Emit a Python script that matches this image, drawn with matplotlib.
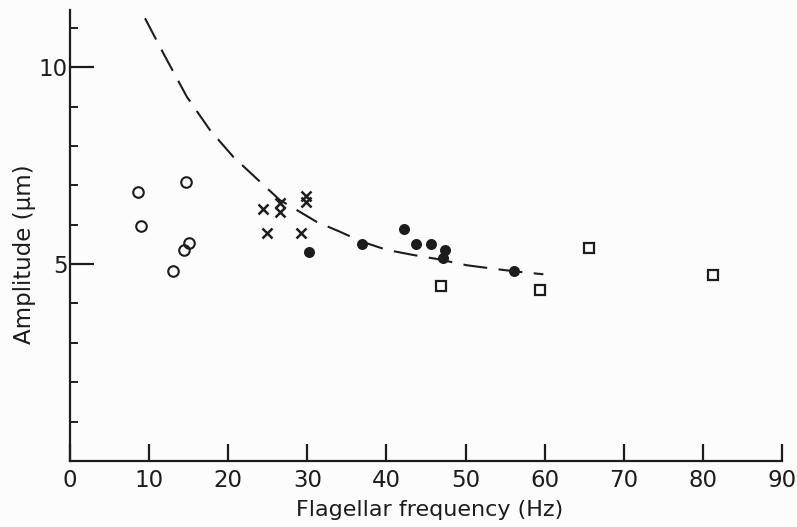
import matplotlib
matplotlib.use("Agg")
import matplotlib.pyplot as plt
from matplotlib.ticker import FixedLocator

plt.rcParams['font.family'] = ['DejaVu Sans']

# Open circles
open_x = [8.6, 9.0, 14.7, 15.1, 14.45, 13.06]
open_y = [6.83, 5.96, 7.09, 5.54, 5.36, 4.82]
# Crosses
cross_x = [24.4, 24.9, 26.5, 26.5, 29.8, 29.8, 29.2]
cross_y = [6.41, 5.79, 6.55, 6.33, 6.73, 6.58, 5.79]
# Filled circles
filled_x = [30.25, 36.9, 42.2, 43.7, 45.6, 47.4, 47.2, 56.1]
filled_y = [5.31, 5.50, 5.89, 5.50, 5.50, 5.36, 5.16, 4.83]
# Open squares
square_x = [46.9, 59.4, 65.65, 81.3]
square_y = [4.44, 4.34, 5.42, 4.72]
# Dashed curve
curve_x = [9.48, 11.80, 14.76, 17.70, 20.65, 24.02, 26.55, 27.6, 31.19, 34.13,
           36.88, 40.04, 43.40, 46.36, 50.15, 53.94, 56.89, 59.84]
curve_y = [11.24, 10.35, 9.25, 8.40, 7.72, 7.09, 6.62, 6.50, 6.07, 5.82,
           5.57, 5.36, 5.23, 5.13, 4.97, 4.87, 4.80, 4.74]

x_ticks = [0, 10, 20, 30, 40, 50, 60, 70, 80, 90]
y_major = [5, 10]
y_minor = [1, 2, 3, 4, 6, 7, 8, 9, 11]

ink = '#1c1c1c'
W, H = 797, 527
fig = plt.figure(figsize=(W / 100, H / 100), dpi=100)
fig.patch.set_facecolor('#fcfcfc')
ax = fig.add_axes([70 / W, (H - 461) / H, (782 - 70) / W, (461 - 10) / H])
ax.set_facecolor('#fcfcfc')

ax.plot(curve_x, curve_y, color=ink, lw=1.5, dashes=(11.5, 5.5), solid_capstyle='butt')
ax.plot(open_x, open_y, 'o', ms=7.6, mfc='none', mec=ink, mew=1.5, ls='none')
ax.plot(cross_x, cross_y, 'x', ms=7.2, mec=ink, mew=1.8, ls='none')
ax.plot(filled_x, filled_y, 'o', ms=6.9, mfc=ink, mec=ink, ls='none')
ax.plot(square_x, square_y, 's', ms=6.8, mfc='none', mec=ink, mew=1.6, ls='none')

ax.set_xlim(0, 90)
ax.set_ylim(0, 11.45)
for s in ['top', 'right']:
    ax.spines[s].set_visible(False)
for s in ['left', 'bottom']:
    ax.spines[s].set_linewidth(1.6)
    ax.spines[s].set_color(ink)

ax.xaxis.set_major_locator(FixedLocator(x_ticks))
ax.set_xticklabels([str(v) for v in x_ticks])
ax.yaxis.set_major_locator(FixedLocator(y_major))
ax.yaxis.set_minor_locator(FixedLocator(y_minor))
ax.set_yticklabels([str(v) for v in y_major])

ax.tick_params(axis='x', which='major', direction='in', length=12, width=1.6,
               color=ink, labelsize=16.5, labelcolor=ink, pad=6)
ax.tick_params(axis='y', which='major', direction='in', length=17, width=1.6,
               color=ink, labelsize=16.5, labelcolor=ink, pad=1.5)
ax.tick_params(axis='y', which='minor', direction='in', length=6, width=1.4, color=ink)

fig.text(430 / W, 1 - 510 / H, 'Flagellar frequency (Hz)', ha='center', va='center',
         fontsize=16, color=ink)
fig.text(25 / W, 1 - 254 / H, 'Amplitude (µm)', ha='center', va='center',
         rotation=90, fontsize=16.5, color=ink)

fig.savefig('out.png', dpi=100, facecolor=fig.get_facecolor())
